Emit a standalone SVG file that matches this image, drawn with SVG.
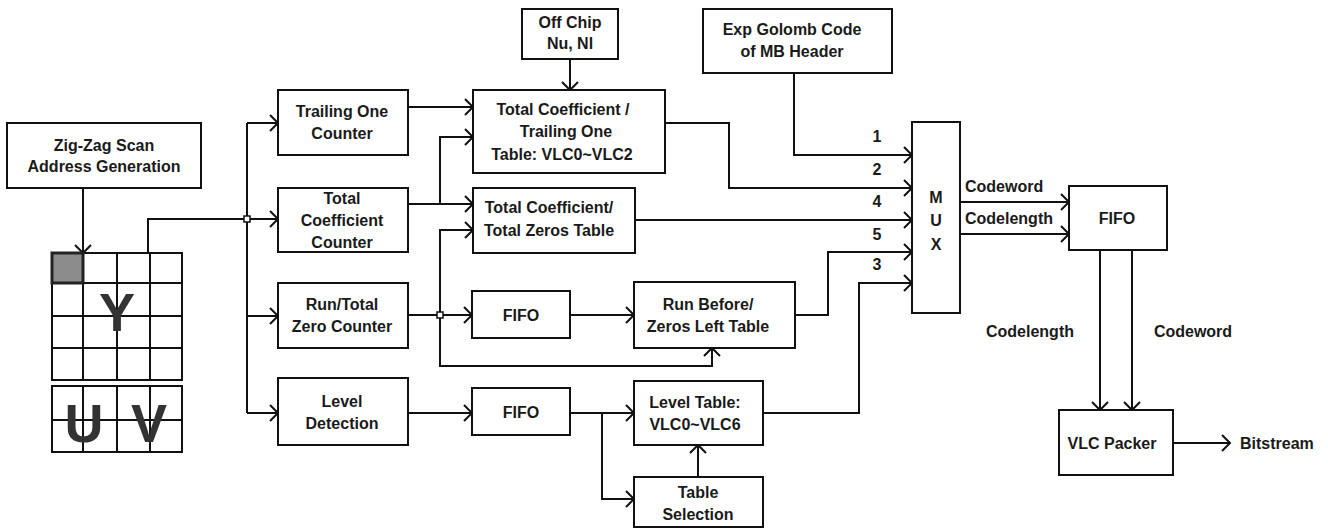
<svg xmlns="http://www.w3.org/2000/svg" width="1328" height="529" viewBox="0 0 1328 529">
<defs>
<marker id="arr" markerUnits="userSpaceOnUse" markerWidth="12" markerHeight="18" refX="9" refY="8" orient="auto" overflow="visible">
<path d="M1,0 L9,8 L1,16" fill="none" stroke="#111" stroke-width="2"/>
</marker>
<style>
.box{fill:#fff;stroke:#111;stroke-width:2}
.t{font-family:"Liberation Sans",Arial,sans-serif;font-weight:bold;font-size:16px;fill:#1a1a1a;text-anchor:middle}
.big{font-family:"Liberation Sans",Arial,sans-serif;font-weight:bold;font-size:54px;fill:#333;text-anchor:middle}
.c{fill:none;stroke:#111;stroke-width:2}
.a{fill:none;stroke:#111;stroke-width:2;marker-end:url(#arr)}
.g{fill:none;stroke:#111;stroke-width:2}
.j{fill:#fff;stroke:#111;stroke-width:1.5}
</style>
</defs>
<rect width="1328" height="529" fill="#fff"/>

<g id="connectors">
<path class="a" d="M83,188 V253"/>
<path class="c" d="M148,253 V219 H247"/>
<path class="c" d="M247,123 V413"/>
<path class="a" d="M247,123 H278"/>
<path class="a" d="M247,219 H278"/>
<path class="a" d="M247,316 H278"/>
<path class="a" d="M247,413 H278"/>
<path class="a" d="M408,107 H473"/>
<path class="a" d="M408,204 H473"/>
<path class="a" d="M440,204 V137 H473"/>
<path class="a" d="M408,315 H472"/>
<path class="a" d="M473,230 H440 V366 H712 V348" marker-start="none"/>
<path class="a" d="M440,230 H473"/>
<path class="a" d="M570,315 H634"/>
<path class="a" d="M408,413 H472"/>
<path class="a" d="M570,413 H634"/>
<path class="a" d="M602,413 V499 H634"/>
<path class="a" d="M698,477 V445"/>
<path class="a" d="M570,59 V90"/>
<path class="a" d="M794,73 V155 H912"/>
<path class="a" d="M665,123 H729 V188 H912"/>
<path class="a" d="M635,220 H912"/>
<path class="a" d="M795,315 H828 V252 H912"/>
<path class="a" d="M763,413 H859 V283 H912"/>
<path class="a" d="M960,202 H1069"/>
<path class="a" d="M960,234 H1069"/>
<path class="a" d="M1100,250 V410"/>
<path class="a" d="M1132,250 V410"/>
<path class="a" d="M1173,443 H1230"/>
<rect class="j" x="244" y="216" width="6" height="6"/>
<rect class="j" x="437" y="312" width="6" height="6"/>
<text class="t" x="877" y="142">1</text>
<text class="t" x="877" y="175">2</text>
<text class="t" x="877" y="207">4</text>
<text class="t" x="877" y="240">5</text>
<text class="t" x="877" y="270">3</text>
<text class="t" x="965" y="192" style="text-anchor:start">Codeword</text>
<text class="t" x="965" y="224" style="text-anchor:start">Codelength</text>
<text class="t" x="1030" y="337">Codelength</text>
<text class="t" x="1193" y="337">Codeword</text>
<text class="t" x="1240" y="449" style="text-anchor:start">Bitstream</text>
</g>

<g id="zigzag">
<rect class="box" x="7" y="123" width="194" height="65"/>
<text class="t" x="104" y="151">Zig-Zag Scan</text>
<text class="t" x="104" y="172">Address Generation</text>
</g>

<g id="ygrid">
<rect x="52" y="253" width="31" height="30" fill="#8c8c8c"/>
<rect class="g" x="52" y="253" width="130" height="127"/>
<path class="g" d="M83,253 V380 M117,253 V380 M150,253 V380 M52,283 H182 M52,316 H182 M52,348 H182"/>
<rect x="52" y="253" width="31" height="30" fill="none" stroke="#222" stroke-width="3"/>
<text class="big" x="117" y="331">Y</text>
</g>

<g id="uvgrid">
<rect class="g" x="52" y="386" width="130" height="66"/>
<path class="g" d="M83,386 V452 M117,386 V452 M150,386 V452 M52,420 H182"/>
<text class="big" x="84" y="442">U</text>
<text class="big" x="149" y="442">V</text>
</g>

<g id="trailing">
<rect class="box" x="278" y="90" width="130" height="65"/>
<text class="t" x="342" y="117">Trailing One</text>
<text class="t" x="342" y="139">Counter</text>
</g>

<g id="tcc">
<rect class="box" x="278" y="188" width="130" height="64"/>
<text class="t" x="342" y="204">Total</text>
<text class="t" x="342" y="226">Coefficient</text>
<text class="t" x="342" y="248">Counter</text>
</g>

<g id="runtotal">
<rect class="box" x="278" y="283" width="130" height="65"/>
<text class="t" x="342" y="310">Run/Total</text>
<text class="t" x="342" y="332">Zero Counter</text>
</g>

<g id="level">
<rect class="box" x="278" y="378" width="130" height="67"/>
<text class="t" x="342" y="407">Level</text>
<text class="t" x="342" y="429">Detection</text>
</g>

<g id="offchip">
<rect class="box" x="522" y="9" width="96" height="50"/>
<text class="t" x="570" y="28">Off Chip</text>
<text class="t" x="570" y="49">Nu, Nl</text>
</g>

<g id="tcto">
<rect class="box" x="473" y="90" width="192" height="83"/>
<text class="t" x="563" y="115">Total Coefficient /</text>
<text class="t" x="566" y="137">Trailing One</text>
<text class="t" x="562" y="160">Table: VLC0~VLC2</text>
</g>

<g id="tctz">
<rect class="box" x="473" y="188" width="162" height="65"/>
<text class="t" x="549" y="213">Total Coefficient/</text>
<text class="t" x="549" y="236">Total Zeros Table</text>
</g>

<g id="fifo1">
<rect class="box" x="472" y="291" width="98" height="47"/>
<text class="t" x="521" y="321">FIFO</text>
</g>

<g id="fifo2">
<rect class="box" x="472" y="388" width="98" height="47"/>
<text class="t" x="521" y="418">FIFO</text>
</g>

<g id="runbefore">
<rect class="box" x="634" y="282" width="161" height="66"/>
<text class="t" x="708" y="310">Run Before/</text>
<text class="t" x="708" y="332">Zeros Left Table</text>
</g>

<g id="leveltable">
<rect class="box" x="634" y="381" width="129" height="64"/>
<text class="t" x="695" y="408">Level Table:</text>
<text class="t" x="695" y="430">VLC0~VLC6</text>
</g>

<g id="tablesel">
<rect class="box" x="634" y="477" width="129" height="50"/>
<text class="t" x="698" y="498">Table</text>
<text class="t" x="698" y="520">Selection</text>
</g>

<g id="expgolomb">
<rect class="box" x="703" y="9" width="189" height="64"/>
<text class="t" x="792" y="35">Exp Golomb Code</text>
<text class="t" x="792" y="57">of MB Header</text>
</g>

<g id="mux">
<rect class="box" x="912" y="122" width="48" height="191"/>
<text class="t" x="936" y="203">M</text>
<text class="t" x="936" y="226">U</text>
<text class="t" x="936" y="250">X</text>
</g>

<g id="fifo3">
<rect class="box" x="1069" y="186" width="98" height="64"/>
<text class="t" x="1117" y="224">FIFO</text>
</g>

<g id="vlcpacker">
<rect class="box" x="1059" y="410" width="114" height="65"/>
<text class="t" x="1112" y="449">VLC Packer</text>
</g>
</svg>
